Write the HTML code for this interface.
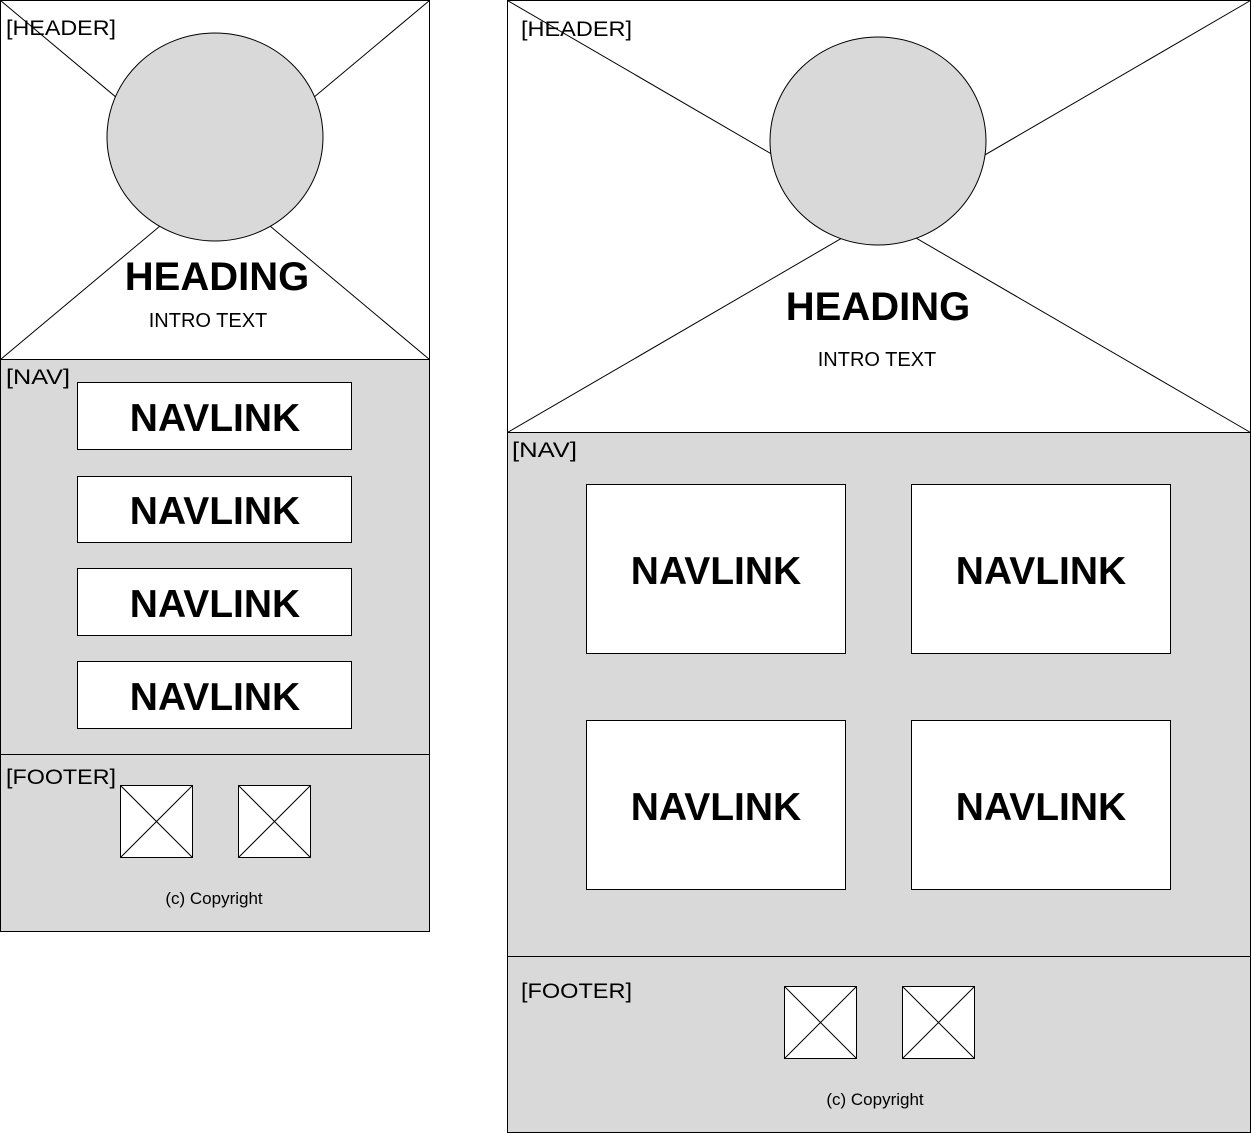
<!DOCTYPE html>
<html><head><meta charset="utf-8"><style>
html,body{margin:0;padding:0;background:#fff;}
svg{display:block;font-family:"Liberation Sans",sans-serif;}
</style></head><body>
<svg width="1251" height="1133" viewBox="0 0 1251 1133">
<g>
 <g>
  <rect x="0.5" y="0.5" width="429" height="359" fill="#fff" stroke="#000"/>
  <line x1="0.5" y1="0.5" x2="429.5" y2="359.5" stroke="#000"/>
  <line x1="429.5" y1="0.5" x2="0.5" y2="359.5" stroke="#000"/>
  <ellipse cx="215" cy="137" rx="108" ry="104" fill="#d9d9d9" stroke="#000"/>
  <text x="6" y="35" font-size="21" textLength="110" lengthAdjust="spacingAndGlyphs">[HEADER]</text>
  <text x="217" y="290" font-size="40" font-weight="bold" text-anchor="middle">HEADING</text>
  <text x="208" y="327" font-size="20" text-anchor="middle">INTRO TEXT</text>
 </g>
 <g>
  <rect x="0.5" y="359.5" width="429" height="395" fill="#d9d9d9" stroke="#000"/>
  <text x="6" y="384" font-size="21" textLength="64" lengthAdjust="spacingAndGlyphs">[NAV]</text>
  <g><rect x="77.5" y="382.5" width="274" height="67" fill="#fff" stroke="#000"/><text x="215" y="431" font-size="39" font-weight="bold" text-anchor="middle">NAVLINK</text></g>
  <g><rect x="77.5" y="476.5" width="274" height="66" fill="#fff" stroke="#000"/><text x="215" y="524" font-size="39" font-weight="bold" text-anchor="middle">NAVLINK</text></g>
  <g><rect x="77.5" y="568.5" width="274" height="67" fill="#fff" stroke="#000"/><text x="215" y="617" font-size="39" font-weight="bold" text-anchor="middle">NAVLINK</text></g>
  <g><rect x="77.5" y="661.5" width="274" height="67" fill="#fff" stroke="#000"/><text x="215" y="710" font-size="39" font-weight="bold" text-anchor="middle">NAVLINK</text></g>
 </g>
 <g>
  <rect x="0.5" y="754.5" width="429" height="177" fill="#d9d9d9" stroke="#000"/>
  <text x="6" y="784" font-size="21" textLength="110" lengthAdjust="spacingAndGlyphs">[FOOTER]</text>
  <g><rect x="120.5" y="785.5" width="72" height="72" fill="#fff" stroke="#000"/><line x1="120.5" y1="785.5" x2="192.5" y2="857.5" stroke="#000"/><line x1="192.5" y1="785.5" x2="120.5" y2="857.5" stroke="#000"/></g>
  <g><rect x="238.5" y="785.5" width="72" height="72" fill="#fff" stroke="#000"/><line x1="238.5" y1="785.5" x2="310.5" y2="857.5" stroke="#000"/><line x1="310.5" y1="785.5" x2="238.5" y2="857.5" stroke="#000"/></g>
  <text x="214" y="904" font-size="17" text-anchor="middle">(c) Copyright</text>
 </g>
</g>
<g>
 <g>
  <rect x="507.5" y="0.5" width="743" height="432" fill="#fff" stroke="#000"/>
  <line x1="507.5" y1="0.5" x2="1250.5" y2="432.5" stroke="#000"/>
  <line x1="1250.5" y1="0.5" x2="507.5" y2="432.5" stroke="#000"/>
  <ellipse cx="878" cy="141" rx="108" ry="104" fill="#d9d9d9" stroke="#000"/>
  <text x="521" y="36" font-size="21" textLength="111" lengthAdjust="spacingAndGlyphs">[HEADER]</text>
  <text x="878" y="320" font-size="40" font-weight="bold" text-anchor="middle">HEADING</text>
  <text x="877" y="366" font-size="20" text-anchor="middle">INTRO TEXT</text>
 </g>
 <g>
  <rect x="507.5" y="432.5" width="743" height="524" fill="#d9d9d9" stroke="#000"/>
  <text x="512" y="457" font-size="21" textLength="65" lengthAdjust="spacingAndGlyphs">[NAV]</text>
  <g><rect x="586.5" y="484.5" width="259" height="169" fill="#fff" stroke="#000"/><text x="716" y="584" font-size="39" font-weight="bold" text-anchor="middle">NAVLINK</text></g>
  <g><rect x="911.5" y="484.5" width="259" height="169" fill="#fff" stroke="#000"/><text x="1041" y="584" font-size="39" font-weight="bold" text-anchor="middle">NAVLINK</text></g>
  <g><rect x="586.5" y="720.5" width="259" height="169" fill="#fff" stroke="#000"/><text x="716" y="820" font-size="39" font-weight="bold" text-anchor="middle">NAVLINK</text></g>
  <g><rect x="911.5" y="720.5" width="259" height="169" fill="#fff" stroke="#000"/><text x="1041" y="820" font-size="39" font-weight="bold" text-anchor="middle">NAVLINK</text></g>
 </g>
 <g>
  <rect x="507.5" y="956.5" width="743" height="176" fill="#d9d9d9" stroke="#000"/>
  <text x="521" y="998" font-size="21" textLength="111" lengthAdjust="spacingAndGlyphs">[FOOTER]</text>
  <g><rect x="784.5" y="986.5" width="72" height="72" fill="#fff" stroke="#000"/><line x1="784.5" y1="986.5" x2="856.5" y2="1058.5" stroke="#000"/><line x1="856.5" y1="986.5" x2="784.5" y2="1058.5" stroke="#000"/></g>
  <g><rect x="902.5" y="986.5" width="72" height="72" fill="#fff" stroke="#000"/><line x1="902.5" y1="986.5" x2="974.5" y2="1058.5" stroke="#000"/><line x1="974.5" y1="986.5" x2="902.5" y2="1058.5" stroke="#000"/></g>
  <text x="875" y="1105" font-size="17" text-anchor="middle">(c) Copyright</text>
 </g>
</g>
</svg>
</body></html>
